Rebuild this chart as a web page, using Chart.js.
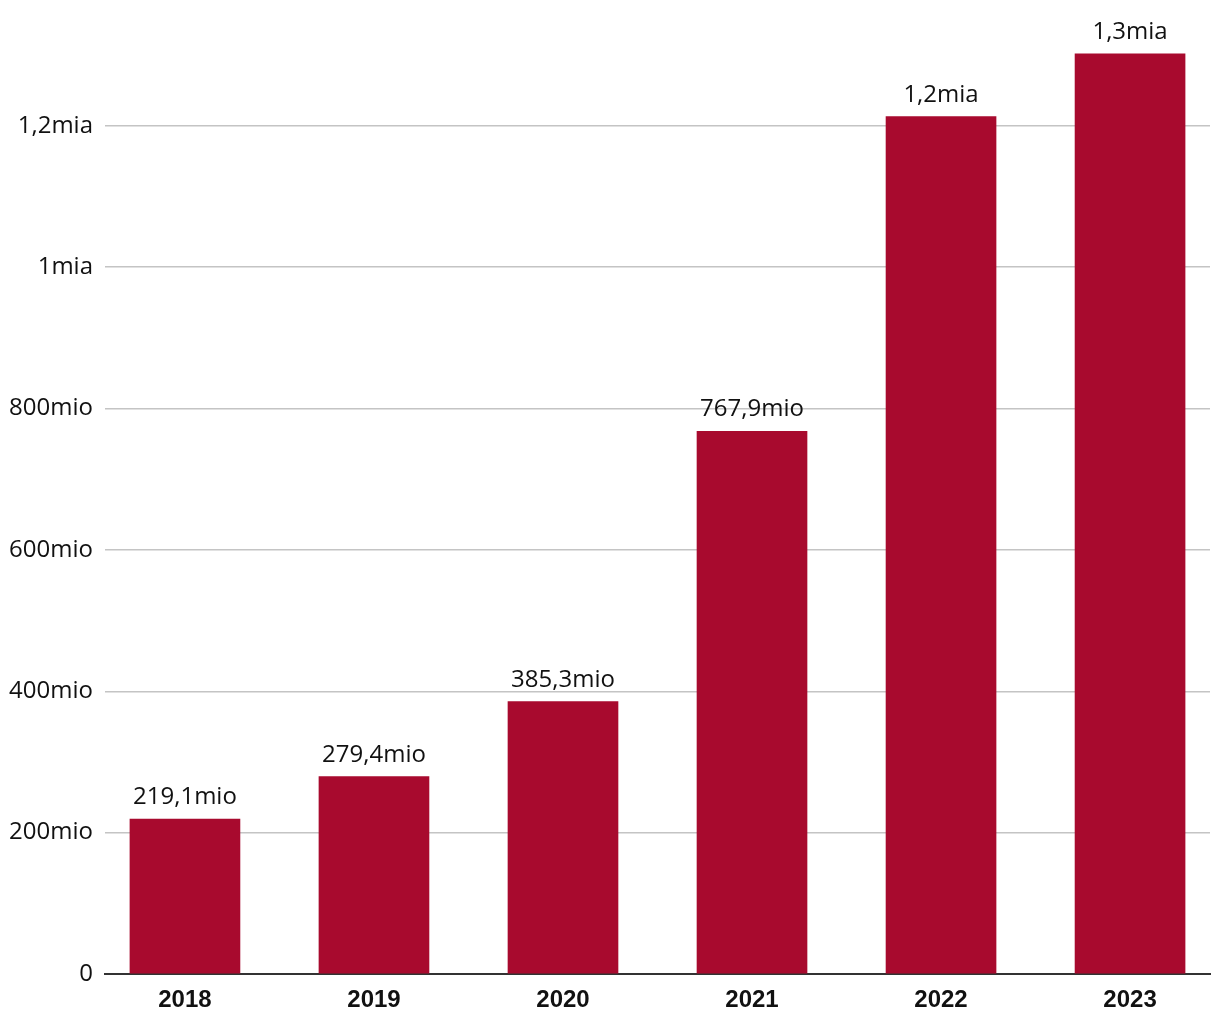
<!DOCTYPE html>
<html>
<head>
<meta charset="utf-8">
<script src="https://cdn.jsdelivr.net/npm/chart.js@4"></script>
<style>
  body { margin: 0; background: #fff; }
  canvas { display: block; }
</style>
</head>
<body>
<canvas id="chart" width="1220" height="1020"></canvas>
<script>
// values in millions
const years = [2018, 2019, 2020, 2021, 2022, 2023];
const revenue = [219.1, 279.4, 385.3, 767.9, 1213, 1302];
const yTicks = [0, 200, 400, 600, 800, 1000, 1200];

function formatAmount(v) {
    if (v === 0) return '0';
    if (v >= 1000) {
        const b = v / 1000;
        const s = Number.isInteger(b) ? String(b) : b.toFixed(1).replace('.', ',');
        return s + 'mia';
    }
    return (Number.isInteger(v) ? String(v) : v.toFixed(1).replace('.', ',')) + 'mio';
}

const valueLabels = {
    id: 'valueLabels',
    afterDatasetsDraw(chart) {
        const ctx = chart.ctx;
        const meta = chart.getDatasetMeta(0);
        ctx.save();
        ctx.font = '24px "Open Sans"';
        ctx.fillStyle = '#111';
        ctx.textAlign = 'center';
        ctx.textBaseline = 'alphabetic';
        meta.data.forEach((bar, i) => {
            ctx.fillText(formatAmount(revenue[i]), bar.x, bar.y - 15);
        });
        ctx.restore();
    }
};

new Chart(document.getElementById('chart'), {
    type: 'bar',
    data: {
        datasets: [{
            data: years.map((y, i) => ({ x: y, y: revenue[i] })),
            backgroundColor: '#a80a2e',
            barThickness: 110
        }]
    },
    options: {
        responsive: false,
        animation: false,
        devicePixelRatio: 1,
        layout: { padding: { top: 41, right: 10, bottom: 8, left: 0 } },
        plugins: { legend: { display: false }, tooltip: { enabled: false } },
        scales: {
            x: {
                type: 'linear',
                offset: false,
                min: 2017.577,
                max: 2023.423,
                afterBuildTicks: scale => { scale.ticks = years.map(v => ({ value: v })); },
                afterFit: scale => { scale.height = 38; },
                grid: { display: false, drawTicks: false, offset: false },
                border: { display: true, color: '#333', width: 2 },
                ticks: {
                    padding: 12,
                    color: '#111',
                    maxRotation: 0,
                    font: { family: '"Liberation Sans", Arial', size: 24, weight: 'bold' },
                    callback: v => String(v)
                }
            },
            y: {
                min: 0,
                max: 1320,
                afterBuildTicks: scale => { scale.ticks = yTicks.map(v => ({ value: v })); },
                grid: { color: '#c4c4c4', lineWidth: 1.5, drawTicks: false },
                border: { display: false },
                afterFit: scale => { scale.width = 105; },
                ticks: {
                    padding: 12,
                    color: '#111',
                    font: { family: '"Open Sans"', size: 24 },
                    callback: v => formatAmount(v)
                }
            }
        }
    },
    plugins: [valueLabels]
});
</script>
</body>
</html>
